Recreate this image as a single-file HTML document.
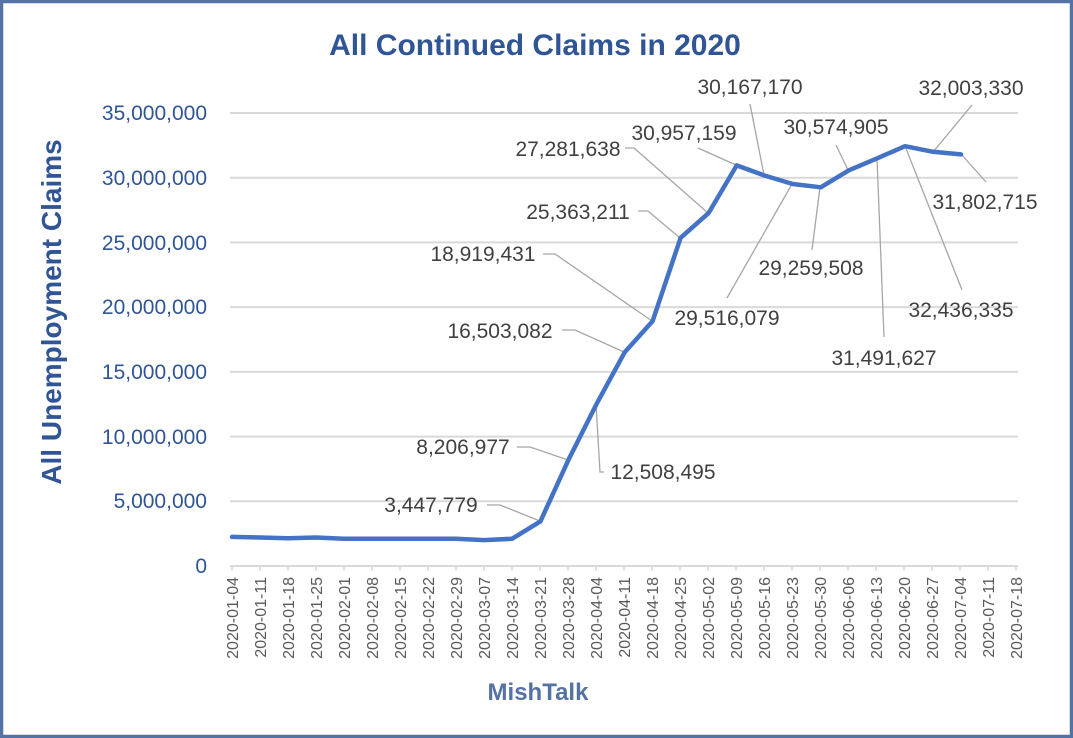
<!DOCTYPE html>
<html><head><meta charset="utf-8"><style>
html,body{margin:0;padding:0;background:#fff}
svg{display:block}
text{font-family:"Liberation Sans",sans-serif}
</style></head><body>
<svg width="1073" height="738" xmlns="http://www.w3.org/2000/svg">
<rect x="1.5" y="1.5" width="1070" height="735" fill="#fff" stroke="#5472a3" stroke-width="3.5"/>
<text x="535" y="55" text-anchor="middle" font-size="30" font-weight="bold" fill="#2f5597">All Continued Claims in 2020</text>
<text transform="translate(61,312) rotate(-90)" text-anchor="middle" font-size="28" font-weight="bold" fill="#2f5597">All Unemployment  Claims</text>
<g stroke="#d9d9d9" stroke-width="2">
<line x1="230" x2="1018" y1="113" y2="113"/><line x1="230" x2="1018" y1="177.7" y2="177.7"/>
<line x1="230" x2="1018" y1="242.4" y2="242.4"/><line x1="230" x2="1018" y1="307.1" y2="307.1"/>
<line x1="230" x2="1018" y1="371.9" y2="371.9"/><line x1="230" x2="1018" y1="436.6" y2="436.6"/>
<line x1="230" x2="1018" y1="501.3" y2="501.3"/><line x1="230" x2="1018" y1="566" y2="566"/>
</g>
<g stroke="#d9d9d9" stroke-width="1.5" id="ticks"></g>
<g font-size="21" fill="#2f5597" text-anchor="end">
<text x="207" y="120">35,000,000</text><text x="207" y="185">30,000,000</text>
<text x="207" y="250">25,000,000</text><text x="207" y="314">20,000,000</text>
<text x="207" y="379">15,000,000</text><text x="207" y="444">10,000,000</text>
<text x="207" y="508">5,000,000</text><text x="207" y="573">0</text>
</g>
<g stroke="#a6a6a6" stroke-width="1.3" fill="none">
<polyline points="487,505 500,505 540,521"/>
<polyline points="517,447 530,447 568,460"/>
<polyline points="596,404 600,472 604,472"/>
<polyline points="562,330 575,330 624,352"/>
<polyline points="543,254 555,254 652,321"/>
<polyline points="638,211 648,211 680,238"/>
<polyline points="625,148 634,148 708,213"/>
<polyline points="698,148 736,165"/>
<polyline points="750,104 764,175"/>
<polyline points="727,298 792,184"/>
<polyline points="812,250 820,187"/>
<polyline points="836,145 848,170"/>
<polyline points="884,337 877,158"/>
<polyline points="962,290 905,146"/>
<polyline points="972,105 933,152"/>
<polyline points="986,182 961,154"/>
</g>
<polyline fill="none" stroke="#4472c4" stroke-width="4.5" stroke-linejoin="round" stroke-linecap="round" points="232,536.9 260,537.5 288,538.2 316,537.5 344,538.8 372,538.8 400,538.8 428,538.8 456,538.8 484,540.1 512,538.8 540.4,521.4 568.5,459.8 596.5,404.1 624.6,352.4 652.6,321.1 680.6,237.8 708.7,212.9 736.7,165.4 764.8,175.6 792.8,184 820.8,187.3 848.9,170.3 876.9,158.4 905,146.2 933,151.8 961,154.4"/>
<g font-size="21" fill="#404040" text-anchor="middle">
<text x="431" y="512">3,447,779</text>
<text x="463" y="454">8,206,977</text>
<text x="663" y="479">12,508,495</text>
<text x="500" y="338">16,503,082</text>
<text x="483" y="261">18,919,431</text>
<text x="578" y="219">25,363,211</text>
<text x="568" y="156">27,281,638</text>
<text x="684" y="140">30,957,159</text>
<text x="750" y="94">30,167,170</text>
<text x="727" y="325">29,516,079</text>
<text x="811" y="275">29,259,508</text>
<text x="836" y="134">30,574,905</text>
<text x="884" y="365">31,491,627</text>
<text x="961" y="317">32,436,335</text>
<text x="971" y="95">32,003,330</text>
<text x="985" y="209">31,802,715</text>
</g>
<g stroke="#d9d9d9" stroke-width="1.5">
<line x1="232" x2="232" y1="566" y2="571"/><line x1="260" x2="260" y1="566" y2="571"/><line x1="288" x2="288" y1="566" y2="571"/><line x1="316" x2="316" y1="566" y2="571"/><line x1="344" x2="344" y1="566" y2="571"/><line x1="372" x2="372" y1="566" y2="571"/><line x1="400" x2="400" y1="566" y2="571"/><line x1="428" x2="428" y1="566" y2="571"/><line x1="456" x2="456" y1="566" y2="571"/><line x1="484" x2="484" y1="566" y2="571"/><line x1="512" x2="512" y1="566" y2="571"/><line x1="540" x2="540" y1="566" y2="571"/><line x1="568" x2="568" y1="566" y2="571"/><line x1="596" x2="596" y1="566" y2="571"/><line x1="624" x2="624" y1="566" y2="571"/><line x1="652" x2="652" y1="566" y2="571"/><line x1="680" x2="680" y1="566" y2="571"/><line x1="708" x2="708" y1="566" y2="571"/><line x1="736" x2="736" y1="566" y2="571"/><line x1="764" x2="764" y1="566" y2="571"/><line x1="792" x2="792" y1="566" y2="571"/><line x1="820" x2="820" y1="566" y2="571"/><line x1="848" x2="848" y1="566" y2="571"/><line x1="876" x2="876" y1="566" y2="571"/><line x1="904" x2="904" y1="566" y2="571"/><line x1="932" x2="932" y1="566" y2="571"/><line x1="960" x2="960" y1="566" y2="571"/><line x1="988" x2="988" y1="566" y2="571"/><line x1="1016" x2="1016" y1="566" y2="571"/>
</g>
<g font-size="16" fill="#595959" text-anchor="end">
<text transform="translate(238,577) rotate(-90)">2020-01-04</text>
<text transform="translate(266,577) rotate(-90)">2020-01-11</text>
<text transform="translate(294,577) rotate(-90)">2020-01-18</text>
<text transform="translate(322,577) rotate(-90)">2020-01-25</text>
<text transform="translate(350,577) rotate(-90)">2020-02-01</text>
<text transform="translate(378,577) rotate(-90)">2020-02-08</text>
<text transform="translate(406,577) rotate(-90)">2020-02-15</text>
<text transform="translate(434,577) rotate(-90)">2020-02-22</text>
<text transform="translate(462,577) rotate(-90)">2020-02-29</text>
<text transform="translate(490,577) rotate(-90)">2020-03-07</text>
<text transform="translate(518,577) rotate(-90)">2020-03-14</text>
<text transform="translate(546,577) rotate(-90)">2020-03-21</text>
<text transform="translate(574,577) rotate(-90)">2020-03-28</text>
<text transform="translate(602,577) rotate(-90)">2020-04-04</text>
<text transform="translate(630,577) rotate(-90)">2020-04-11</text>
<text transform="translate(658,577) rotate(-90)">2020-04-18</text>
<text transform="translate(686,577) rotate(-90)">2020-04-25</text>
<text transform="translate(714,577) rotate(-90)">2020-05-02</text>
<text transform="translate(742,577) rotate(-90)">2020-05-09</text>
<text transform="translate(770,577) rotate(-90)">2020-05-16</text>
<text transform="translate(798,577) rotate(-90)">2020-05-23</text>
<text transform="translate(826,577) rotate(-90)">2020-05-30</text>
<text transform="translate(854,577) rotate(-90)">2020-06-06</text>
<text transform="translate(882,577) rotate(-90)">2020-06-13</text>
<text transform="translate(910,577) rotate(-90)">2020-06-20</text>
<text transform="translate(938,577) rotate(-90)">2020-06-27</text>
<text transform="translate(966,577) rotate(-90)">2020-07-04</text>
<text transform="translate(994,577) rotate(-90)">2020-07-11</text>
<text transform="translate(1022,577) rotate(-90)">2020-07-18</text>
</g>
<text x="538" y="700" text-anchor="middle" font-size="24" font-weight="bold" fill="#5472a3">MishTalk</text>
</svg>
</body></html>
